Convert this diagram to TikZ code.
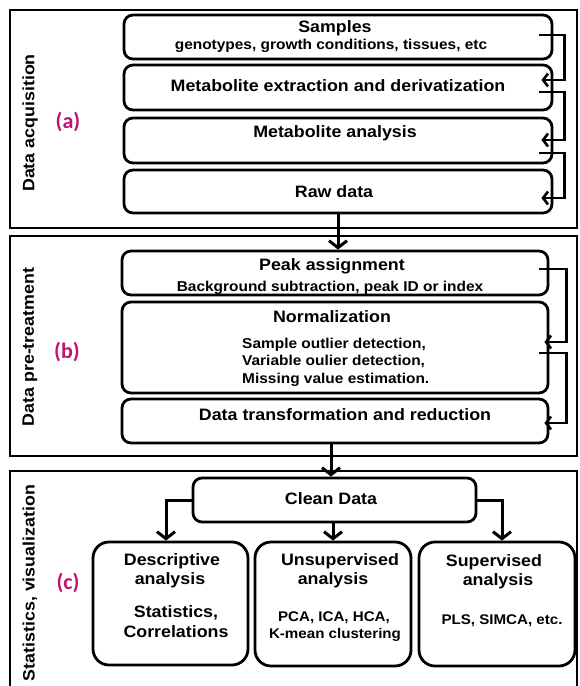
\documentclass[tikz,border=0pt]{standalone}
\usepackage{fontspec}
\setmainfont{Liberation Sans}[FakeStretch=1.08]
\newfontfamily\labfont{Carlito}
\usetikzlibrary{arrows.meta,calc}
\definecolor{labred}{RGB}{192,16,112}
\begin{document}
\begin{tikzpicture}[x=1pt,y=-1pt,
  frame/.style={draw, line width=2.2pt},
  box/.style n args={2}{draw, line width=2.8pt, rounded corners=9pt, minimum width=#1pt, minimum height=#2pt, inner sep=0pt},
  bigbox/.style n args={2}{draw, line width=2.8pt, rounded corners=16pt, minimum width=#1pt, minimum height=#2pt, inner sep=0pt},
  ttl/.style={anchor=base, inner sep=0pt, font=\bfseries\fontsize{16.5}{20}\selectfont},
  sub/.style={anchor=base, inner sep=0pt, font=\bfseries\fontsize{14.3}{18}\selectfont},
  sml/.style={anchor=base, inner sep=0pt, font=\bfseries\fontsize{14}{17}\selectfont},
  side/.style={rotate=90, inner sep=0pt, font=\bfseries\fontsize{16.5}{20}\selectfont},
  tag/.style={inner sep=0pt, text=labred, font=\labfont\bfseries\fontsize{22}{26}\selectfont},
  conn/.style={line width=2.8pt, -{Straight Barb[length=5pt,width=13pt,line width=2.6pt]}},
  dconn/.style={line width=3pt, -{Straight Barb[length=7pt,width=18pt,line width=3pt]}}
]
\useasboundingbox (0,0) rectangle (579,686);
\fill[white] (0,0) rectangle (579,686);

% frames
\draw[frame] (10,10) rectangle (577,228);
\draw[frame] (10,236) rectangle (577,456);
\draw[frame] (10,695) -- (10,471) -- (577,471) -- (577,695);

% side labels
\node[side] (sideA) at (30,123) {Data acquisition};
\node[side] (sideB) at (30,347) {Data pre-treatment};
\node[side] (sideC) at (30,583) {Statistics, visualization};
\node[tag] (tagA) at (68,122) {(a)};
\node[tag] (tagB) at (67,352) {(b)};
\node[tag] (tagC) at (68,583) {(c)};

% (a) boxes
\node[box={428}{44}] (samples) at (338,37) {};
\node[box={428}{45}] (extract) at (338,87.5) {};
\node[box={428}{45}] (analysis) at (338,140.5) {};
\node[box={428}{43}] (raw) at (338,191.5) {};
\node[ttl] (samplesT) at (335,32) {Samples};
\node[sub] (samplesS) at (331,49) {genotypes, growth conditions, tissues, etc};
\node[ttl] (extractT) at (338,91) {Metabolite extraction and derivatization};
\node[ttl] (analysisT) at (335,137) {Metabolite analysis};
\node[ttl] (rawT) at (334,197) {Raw data};

% (b) boxes
\node[box={426}{44}] (peak) at (335,273) {};
\node[box={426}{91}] (norm) at (335,347.5) {};
\node[box={426}{44}] (transform) at (335,421) {};
\node[ttl] (peakT) at (332,270) {Peak assignment};
\node[sub] (peakS) at (330,291) {Background subtraction, peak ID or index};
\node[ttl] (normT) at (332,322.5) {Normalization};
\node[sub, anchor=base west] (normA) at (242,348) {Sample outlier detection,};
\node[sub, anchor=base west] (normB) at (242,365.5) {Variable oulier detection,};
\node[sub, anchor=base west] (normC) at (242,383) {Missing value estimation.};
\node[ttl] (transformT) at (345,420.5) {Data transformation and reduction};

% (c) boxes
\node[box={283}{44}] (clean) at (334.5,500) {};
\node[bigbox={155}{123}] (desc) at (170.5,603.5) {};
\node[bigbox={156}{124}] (unsup) at (333,604) {};
\node[bigbox={156}{124}] (sup) at (497,604) {};
\node[ttl] (cleanT) at (331,504) {Clean Data};
\node[ttl] (descT1) at (172,565.5) {Descriptive};
\node[ttl] (descT2) at (170,584.5) {analysis};
\node[ttl] (descT3) at (176,617) {Statistics,};
\node[ttl] (descT4) at (176,637) {Correlations};
\node[ttl] (unsupT1) at (340,565.5) {Unsupervised};
\node[ttl] (unsupT2) at (333,584.5) {analysis};
\node[sml] (unsupT3) at (334,621) {PCA, ICA, HCA,};
\node[sml] (unsupT4) at (335,638) {K-mean clustering};
\node[ttl] (supT1) at (494,566) {Supervised};
\node[ttl] (supT2) at (498,585.5) {analysis};
\node[sml] (supT3) at (502,624) {PLS, SIMCA, etc.};

% (a) connectors
\draw[conn] ([xshift=-14pt,yshift=2pt]samples.east) -- ++(25,0) |- ([xshift=-12pt,yshift=7.5pt]extract.east);
\draw[conn] ([xshift=-14pt,yshift=-4.5pt]extract.east) -- ++(25,0) |- ([xshift=-12pt,yshift=0.5pt]analysis.east);
\draw[conn] ([xshift=-14pt,yshift=-12.5pt]analysis.east) -- ++(25,0) |- ([xshift=-12pt,yshift=-6.5pt]raw.east);

% (b) connectors
\draw[conn] ([xshift=-10pt,yshift=4pt]peak.east) -- ++(27,0) |- ([xshift=-5pt,yshift=5.5pt]norm.east);
\draw[conn] ([xshift=-10pt,yshift=-5.5pt]norm.east) -- ++(27,0) |- ([xshift=-5pt,yshift=-2pt]transform.east);

% between frames
\draw[dconn] (raw.south) -- (raw.south |- peak.north);
\draw[dconn] ([xshift=-4pt]transform.south) -- ([xshift=-4pt]transform.south |- clean.north);

% (c) connectors
\draw[dconn] (clean.west) -| ([xshift=-4.5pt]desc.north);
\draw[dconn] (clean.south -| unsup.north) -- (unsup.north);
\draw[dconn] (clean.east) -| ([xshift=5pt]sup.north);
\end{tikzpicture}
\end{document}
